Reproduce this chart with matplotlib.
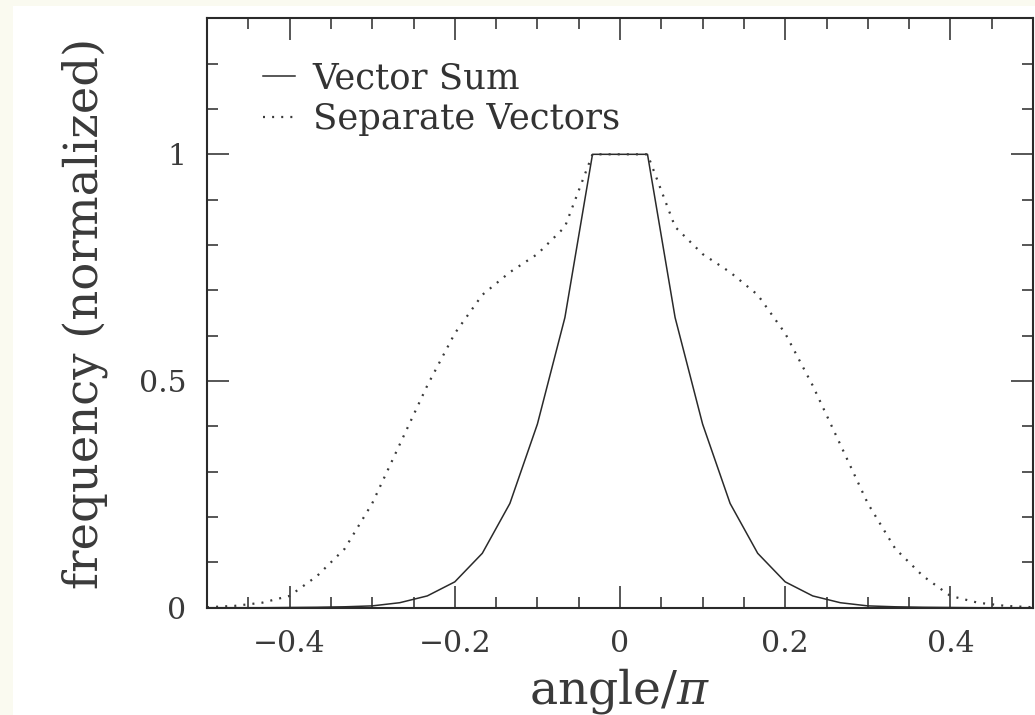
import matplotlib
matplotlib.use("Agg")
import matplotlib.pyplot as plt
from matplotlib.patches import Rectangle
from matplotlib.ticker import MultipleLocator, FuncFormatter

# angle / pi, sampled in steps of 1/30
angle = [-0.5, -0.4667, -0.4333, -0.4, -0.3667, -0.3333, -0.3, -0.2667,
         -0.2333, -0.2, -0.1667, -0.1333, -0.1, -0.0667, -0.0333, 0.0,
         0.0333, 0.0667, 0.1, 0.1333, 0.1667, 0.2, 0.2333, 0.2667,
         0.3, 0.3333, 0.3667, 0.4, 0.4333, 0.4667, 0.5]

vector_sum = [0.0, 0.0, 0.0, 0.0005, 0.001, 0.002, 0.004, 0.011,
              0.026, 0.057, 0.12, 0.23, 0.405, 0.64, 1.0, 1.0,
              1.0, 0.64, 0.405, 0.23, 0.12, 0.057, 0.026, 0.011,
              0.004, 0.002, 0.001, 0.0005, 0.0, 0.0, 0.0]

separate_vectors = [0.001, 0.004, 0.011, 0.026, 0.07, 0.13, 0.23, 0.36,
                    0.49, 0.605, 0.69, 0.74, 0.78, 0.84, 1.0, 1.0,
                    1.0, 0.84, 0.78, 0.74, 0.69, 0.605, 0.49, 0.36,
                    0.23, 0.13, 0.07, 0.026, 0.011, 0.004, 0.001]

series_labels = ["Vector Sum", "Separate Vectors"]

ink = "#2a2a2a"
plt.rcParams.update({
    "font.family": ["DejaVu Serif"],
    "mathtext.fontset": "dejavuserif",
    "text.color": "#333333",
    "axes.edgecolor": ink,
    "xtick.color": "#3a3a3a",
    "ytick.color": "#3a3a3a",
})

fig = plt.figure(figsize=(10.35, 7.15), dpi=100, facecolor="#fafaf0")
fig.patches.append(Rectangle((13 / 1035, 0), 1, 1 - 5.5 / 715,
                             transform=fig.transFigure, facecolor="white",
                             edgecolor="none", zorder=-10))

ax = fig.add_axes([207 / 1035, 1 - 607.7 / 715, 826 / 1035, 589.4 / 715])
ax.set_facecolor("white")

ax.plot(angle, vector_sum, color=ink, lw=1.1, label=series_labels[0])
ax.plot(angle, separate_vectors, color="#3a3a3a", lw=1.6,
        linestyle=(0, (0.9, 3.2)), label=series_labels[1])

ax.set_xlim(-0.5, 0.5)
ax.set_ylim(0, 1.3)

ax.xaxis.set_major_locator(MultipleLocator(0.2))
ax.xaxis.set_minor_locator(MultipleLocator(0.05))
ax.yaxis.set_major_locator(MultipleLocator(0.5))
ax.yaxis.set_minor_locator(MultipleLocator(0.1))


def fmt(v, pos):
    if abs(v) < 1e-9:
        return "0"
    s = f"{v:g}"
    return s.replace("-", "\u2212")


ax.xaxis.set_major_formatter(FuncFormatter(fmt))
ax.yaxis.set_major_formatter(FuncFormatter(fmt))

ax.tick_params(which="both", direction="in", top=True, right=True, width=1.2)
ax.tick_params(which="major", length=16, labelsize=21.5)
ax.tick_params(axis="x", which="major", pad=16)
ax.tick_params(axis="y", which="major", pad=15)
ax.tick_params(which="minor", length=8)
for sp in ax.spines.values():
    sp.set_linewidth(1.5)

ax.set_xlabel(r"angle/$\pi$", fontsize=34, labelpad=6, color="#3a3a3a")
ax.set_ylabel("frequency (normalized)", fontsize=33.5, labelpad=22,
              color="#3a3a3a")

ax.legend(loc="upper left", bbox_to_anchor=(0.068, 0.927), frameon=False,
          fontsize=25.5, handlelength=0.9, handletextpad=0.5,
          borderpad=0, borderaxespad=0, labelspacing=0.2)

fig.savefig("out.png", dpi=100, facecolor=fig.get_facecolor())
